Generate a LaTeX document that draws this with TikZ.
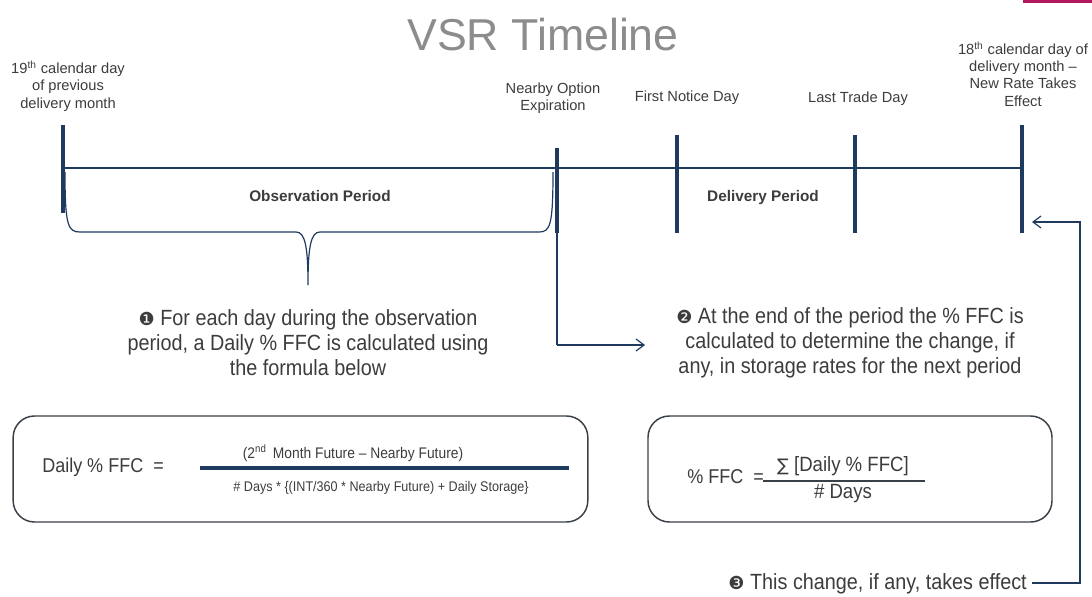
\documentclass[tikz,border=0pt]{standalone}
\usepackage{fontspec}
\setmainfont{Liberation Sans}
\newfontfamily\narrowfont{Liberation Sans}[FakeStretch=0.9,Ligatures=TeX]
\newfontfamily\dingfont{DejaVu Sans}
\usetikzlibrary{arrows.meta,positioning}
\definecolor{navy}{HTML}{1F3A5F}
\definecolor{textgray}{HTML}{3C3C3C}
\definecolor{titlegray}{HTML}{8C8C8C}
\definecolor{boxgray}{HTML}{3A4048}
\definecolor{accent}{HTML}{B3175F}
\tikzstyle{daylabel} = [align=center, text=textgray, inner sep=0pt, font=\fontsize{11}{13}\selectfont]
\tikzstyle{period} = [text=textgray, inner sep=0pt, font=\fontsize{11.5}{14}\selectfont\bfseries]
\tikzstyle{note} = [align=center, text=textgray, inner sep=0pt, font=\narrowfont\fontsize{16.5}{18.75}\selectfont]
\tikzstyle{formulabox} = [rectangle, rounded corners=16pt, draw=boxgray, line width=1.1pt, minimum height=79.5pt]
\tikzstyle{formula} = [text=textgray, inner sep=0pt, font=\narrowfont]
\tikzstyle{timeline} = [navy, line width=2.2pt]
\tikzstyle{tick} = [navy, line width=3.4pt]
\tikzstyle{thinline} = [navy, line width=0.9pt]
\tikzstyle{arrow} = [thinline, -{Straight Barb[length=6pt,width=9pt]}]
\newcommand{\stepno}[1]{{\dingfont\fontsize{13.5}{14}\selectfont #1}}

\begin{document}
\begin{tikzpicture}[x=0.75pt, y=-0.75pt]
\useasboundingbox (0,0) rectangle (1092,596);
\fill[accent] (1023,0) rectangle (1092,2.5);

\node (title) [text=titlegray, font=\fontsize{33.5}{36}\selectfont] at (543,35) {VSR Timeline};

% timeline and its days
\coordinate (tstart) at (63,168);
\coordinate (tnear) at (557,168);
\coordinate (tfnd) at (677,168);
\coordinate (tltd) at (855,168);
\coordinate (tend) at (1022,168);
\draw[timeline] (tstart) -- (tend);
\draw[tick] (63,125) -- (63,213);
\draw[tick] (557,148) -- (557,233);
\draw[tick] (677,135) -- (677,233);
\draw[tick] (855,135) -- (855,233);
\draw[tick] (1022,125) -- (1022,233);

\node (lblstart) [daylabel] at (68,86) {19\textsuperscript{th} calendar day\\of previous\\delivery month};
\node (lblnear) [daylabel] at (553,98) {Nearby Option\\Expiration};
\node (lblfnd) [daylabel] at (687,98) {First Notice Day};
\node (lblltd) [daylabel] at (858,99) {Last Trade Day};
\node (lblend) [daylabel] at (1023,74) {18\textsuperscript{th} calendar day of\\delivery month –\\New Rate Takes\\Effect};

\node (obs) [period] at (320,196) {Observation Period};
\node (deliv) [period] at (763,198) {Delivery Period};

% brace under the observation period
\draw[thinline] (65,172) .. controls (65,226) and (68,232) .. (80,232) -- (296,232)
  .. controls (305,232) and (308,246) .. (308,285)
  .. controls (308,246) and (311,232) .. (320,232) -- (539,232)
  .. controls (550,232) and (553,226) .. (553,172);

\node (note1) [note] at (308,343) {\stepno{❶} For each day during the observation\\period, a Daily \% FFC is calculated using\\the formula below};
\node (note2) [note] at (850,343) {\stepno{❷} At the end of the period the \% FFC is\\calculated to determine the change, if\\any, in storage rates for the next period};
\node (note3) [note, anchor=east] at (1027,584) {\stepno{❸} This change, if any, takes effect};

\coordinate (nearfoot) at (557,345);
\coordinate (toperiod) at (645,345);
\draw[thinline] (tnear) -- (nearfoot);
\draw[arrow] (nearfoot) -- (toperiod);

\coordinate (retfrom) at (1032,583);
\coordinate (retcorner) at (1080,583);
\coordinate (retto) at (1032,222);
\draw[arrow] (retfrom) -- (retcorner) |- (retto);

% formula boxes
\node (box1) [formulabox, minimum width=431pt] at (300.5,469) {};
\node (box2) [formulabox, minimum width=303pt] at (850,469) {};

\node (dailylhs) [formula, anchor=west, font=\narrowfont\fontsize{15}{16}\selectfont] at (42,467) {Daily \% FFC\enspace =};
\node (dailynum) [formula, font=\narrowfont\fontsize{11.5}{13}\selectfont] at (353,453) {(2\textsuperscript{nd}\, Month Future – Nearby Future)};
\node (dailyden) [formula, font=\narrowfont\fontsize{10.5}{12}\selectfont] at (381,488) {\# Days * \{(INT/360 * Nearby Future) + Daily Storage\}};
\coordinate (barl) at (200,468);
\coordinate (barr) at (569,468);
\draw[navy, line width=2.4pt] (barl) -- (barr);

\node (fcclhs) [formula, anchor=west, font=\narrowfont\fontsize{15}{16}\selectfont] at (687,477) {\% FFC\enspace=};
\node (fccnum) [formula, font=\narrowfont\fontsize{15.5}{17}\selectfont] at (843,466) {{\dingfont\fontsize{13}{14}\selectfont ∑} [Daily \% FFC]};
\node (fccden) [formula, font=\narrowfont\fontsize{15.5}{17}\selectfont] at (843,494) {\# Days};
\coordinate (fbarl) at (763,481);
\coordinate (fbarr) at (925,481);
\draw[boxgray, line width=1.3pt] (fbarl) -- (fbarr);
\end{tikzpicture}
\end{document}
